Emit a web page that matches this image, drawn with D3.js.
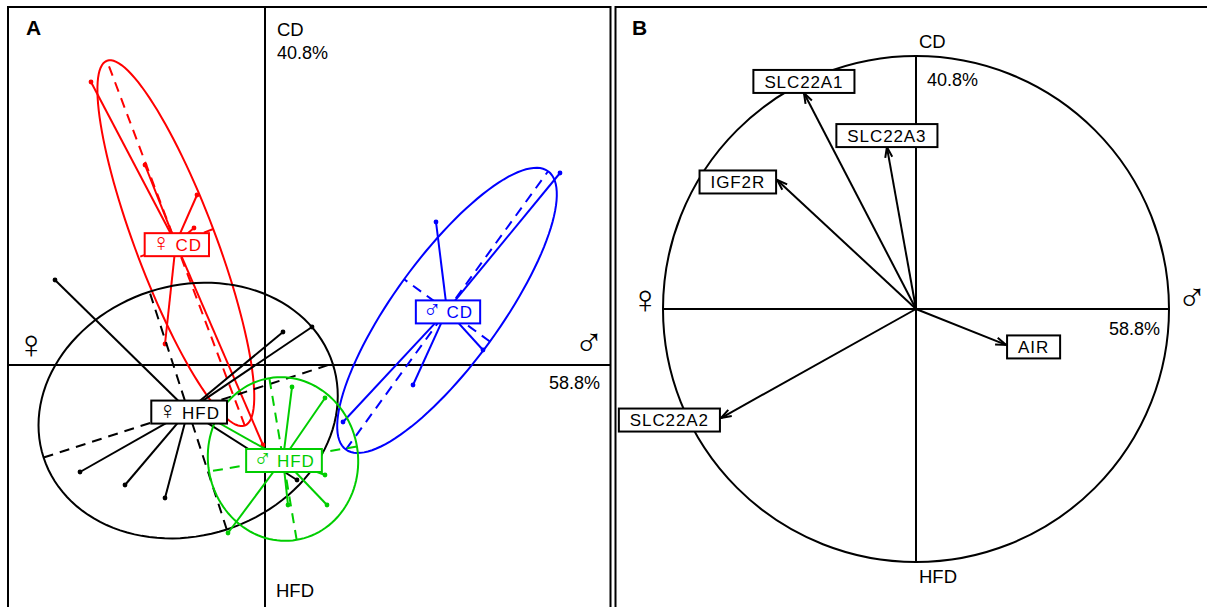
<!DOCTYPE html>
<html>
<head>
<meta charset="utf-8">
<script src="https://cdn.jsdelivr.net/npm/d3@7"></script>
<style>
body{margin:0;background:#fff;}
text{font-family:"Liberation Sans",Arial,sans-serif;}
.sym{font-family:"DejaVu Sans";font-weight:200;}
</style>
</head>
<body>
<div id="chart"></div>
<script>
// panel A - individuals on axis 1 (sex) / axis 2 (diet), by group
const groupSymbols = ["♀", "♀", "♂", "♂"];
const groupDiets = ["CD", "HFD", "CD", "HFD"];
const groupColors = ["#ff0000", "#000000", "#0000ff", "#00cd00"];
const femaleCD  = [[-3.48,5.66],[-2.40,4.00],[-1.36,3.40],[-1.42,2.74],[-2.00,0.42],[-0.04,-1.60]];
const femaleHFD = [[-4.20,1.70],[0.36,0.66],[0.94,0.76],[-3.70,-2.14],[-2.80,-2.40],[-2.00,-2.66],[0.64,-2.30]];
const maleCD    = [[5.90,3.84],[3.42,2.86],[2.96,-0.40],[4.36,0.30],[1.56,-1.14]];
const maleHFD   = [[0.54,-0.44],[1.20,-0.66],[1.20,-2.20],[1.24,-2.80],[0.46,-2.80],[-0.74,-3.36],[-1.38,-0.90]];
const groupPoints = [femaleCD, femaleHFD, maleCD, maleHFD];
// ellipse half axes + angle (degrees)
const ellipseMajor = [3.90, 3.04, 3.44, 1.64];
const ellipseMinor = [0.80, 2.50, 1.06, 1.50];
const ellipseAngle = [110.7, 18.0, 54.0, 99.6];

// panel B - correlation circle
const varNames = ["SLC22A1", "SLC22A3", "IGF2R", "SLC22A2", "AIR"];
const varX = [-0.443, -0.115, -0.549, -0.771, 0.356];
const varY = [0.854, 0.640, 0.510, -0.431, -0.142];

const axisPct = ["58.8%", "40.8%"];   // axis 1, axis 2
const axisEnds = ["♀", "♂", "HFD", "CD"]; // left, right, bottom, top

const svg = d3.select("#chart").append("svg")
    .attr("width", 1207).attr("height", 607);

// ---------- panel A ----------
var x = d3.scaleLinear().domain([-5.14, 6.9]).range([8, 610]);
var y = d3.scaleLinear().domain([-4.84, 7.16]).range([607, 7]);

var gA = svg.append("g");
gA.append("path")
    .attr("d", "M8,640V7H610.5V640")
    .attr("fill", "none").attr("stroke", "#000").attr("stroke-width", 2);
gA.append("line").attr("x1", 8).attr("x2", 610.5).attr("y1", y(0)).attr("y2", y(0))
    .attr("stroke", "#000").attr("stroke-width", 2);
gA.append("line").attr("x1", x(0)).attr("x2", x(0)).attr("y1", 7).attr("y2", 640)
    .attr("stroke", "#000").attr("stroke-width", 2);

gA.append("text").attr("x", 26).attr("y", 35).attr("font-size", 21).attr("font-weight", "bold").text("A");
gA.append("text").attr("x", x(0) + 12).attr("y", 36).attr("font-size", 18.5).text(axisEnds[3]);
gA.append("text").attr("x", x(0) + 12).attr("y", 59).attr("font-size", 18).text(axisPct[1]);
gA.append("text").attr("x", x(0) + 11).attr("y", 597).attr("font-size", 18.5).text(axisEnds[2]);
gA.append("text").attr("class", "sym").attr("x", 31).attr("y", 358).attr("font-size", 40)
    .attr("text-anchor", "middle").text(axisEnds[0]);
gA.append("text").attr("class", "sym").attr("x", 589).attr("y", 356).attr("font-size", 40)
    .attr("text-anchor", "middle").text(axisEnds[1]);
gA.append("text").attr("x", 600).attr("y", 389).attr("font-size", 18).attr("text-anchor", "end").text(axisPct[0]);

var line = d3.line().x(d => x(d[0])).y(d => y(d[1]));

function ellipseRing(cx, cy, a, b, deg){
    var th = deg * Math.PI / 180;
    return d3.range(0, 361, 3).map(t => {
        var r = t * Math.PI / 180;
        return [cx + a*Math.cos(r)*Math.cos(th) - b*Math.sin(r)*Math.sin(th),
                cy + a*Math.cos(r)*Math.sin(th) + b*Math.sin(r)*Math.cos(th)];
    });
}

var centers = groupPoints.map(pts => [d3.mean(pts, d => d[0]), d3.mean(pts, d => d[1])]);

groupPoints.forEach((pts, i) => {
    var c = centers[i], col = groupColors[i];
    var th = ellipseAngle[i] * Math.PI / 180;
    var a = ellipseMajor[i], b = ellipseMinor[i];
    var g = gA.append("g");

    g.append("path")
        .attr("d", line(ellipseRing(c[0], c[1], a, b, ellipseAngle[i])))
        .attr("fill", "none").attr("stroke", col).attr("stroke-width", 2);

    // dashed ellipse axes
    var axes = [
        [[c[0] - a*Math.cos(th), c[1] - a*Math.sin(th)], [c[0] + a*Math.cos(th), c[1] + a*Math.sin(th)]],
        [[c[0] + b*Math.sin(th), c[1] - b*Math.cos(th)], [c[0] - b*Math.sin(th), c[1] + b*Math.cos(th)]]
    ];
    g.selectAll(".ax").data(axes).enter().append("path")
        .attr("d", d => line(d))
        .attr("stroke", col).attr("stroke-width", 2).attr("stroke-dasharray", "10,7");

    // spokes from centre to each individual
    g.selectAll(".spoke").data(pts).enter().append("line")
        .attr("x1", x(c[0])).attr("y1", y(c[1]))
        .attr("x2", d => x(d[0])).attr("y2", d => y(d[1]))
        .attr("stroke", col).attr("stroke-width", 2);

    g.selectAll(".pt").data(pts).enter().append("circle")
        .attr("cx", d => x(d[0])).attr("cy", d => y(d[1]))
        .attr("r", 2.4).attr("fill", col);
});

// group labels on top
groupDiets.forEach((diet, i) => {
    var c = centers[i], col = groupColors[i];
    var cx = x(c[0]) + 1, cy = y(c[1]) + 1.5;
    var g = gA.append("g");
    var t = g.append("text")
        .attr("x", cx).attr("y", cy + 6.5)
        .attr("text-anchor", "middle")
        .attr("font-size", 17).attr("letter-spacing", 1)
        .attr("fill", col);
    t.append("tspan").attr("class", "sym").attr("font-size", 25).text(groupSymbols[i]);
    t.append("tspan").attr("dx", 4).text(diet);
    var bb = t.node().getBBox();
    g.insert("rect", "text")
        .attr("x", cx - bb.width/2 - 7).attr("y", cy - 11.5)
        .attr("width", bb.width + 14).attr("height", 23)
        .attr("fill", "#fff").attr("stroke", col).attr("stroke-width", 2);
});

// ---------- panel B ----------
var xb = d3.scaleLinear().domain([-1, 1]).range([663, 1169]);
var yb = d3.scaleLinear().domain([-1, 1]).range([562, 56]);

var gB = svg.append("g");
gB.append("path")
    .attr("d", "M615.5,640V7H1220")
    .attr("fill", "none").attr("stroke", "#000").attr("stroke-width", 2);
gB.append("circle").attr("cx", xb(0)).attr("cy", yb(0)).attr("r", xb(1) - xb(0))
    .attr("fill", "none").attr("stroke", "#000").attr("stroke-width", 2);
gB.append("line").attr("x1", xb(-1)).attr("x2", xb(1)).attr("y1", yb(0)).attr("y2", yb(0))
    .attr("stroke", "#000").attr("stroke-width", 2);
gB.append("line").attr("x1", xb(0)).attr("x2", xb(0)).attr("y1", yb(1)).attr("y2", yb(-1))
    .attr("stroke", "#000").attr("stroke-width", 2);

gB.append("text").attr("x", 632).attr("y", 35).attr("font-size", 21).attr("font-weight", "bold").text("B");
gB.append("text").attr("x", xb(0) + 3).attr("y", 48).attr("font-size", 18.5).text(axisEnds[3]);
gB.append("text").attr("x", xb(0) + 11).attr("y", 86).attr("font-size", 18).text(axisPct[1]);
gB.append("text").attr("x", xb(0) + 3).attr("y", 583).attr("font-size", 18.5).text(axisEnds[2]);
gB.append("text").attr("x", 1160).attr("y", 335).attr("font-size", 18).attr("text-anchor", "end").text(axisPct[0]);
gB.append("text").attr("class", "sym").attr("x", 645).attr("y", 313).attr("font-size", 40)
    .attr("text-anchor", "middle").text(axisEnds[0]);
gB.append("text").attr("class", "sym").attr("x", 1192).attr("y", 311).attr("font-size", 40)
    .attr("text-anchor", "middle").text(axisEnds[1]);

varNames.forEach((name, i) => {
    var x0 = xb(0), y0 = yb(0), x1 = xb(varX[i]), y1 = yb(varY[i]);
    var ang = Math.atan2(y1 - y0, x1 - x0), hl = 11, ha = 0.33;
    gB.append("line").attr("x1", x0).attr("y1", y0).attr("x2", x1).attr("y2", y1)
        .attr("stroke", "#000").attr("stroke-width", 2);
    gB.append("path")
        .attr("d", "M" + (x1 - hl*Math.cos(ang - ha)) + "," + (y1 - hl*Math.sin(ang - ha)) +
                   "L" + x1 + "," + y1 +
                   "L" + (x1 - hl*Math.cos(ang + ha)) + "," + (y1 - hl*Math.sin(ang + ha)))
        .attr("fill", "none").attr("stroke", "#000").attr("stroke-width", 2);

    var g = gB.append("g");
    var t = g.append("text").attr("font-size", 17).attr("letter-spacing", 0.9)
        .attr("text-anchor", "middle").attr("dy", "0.36em").text(name);
    var w = t.node().getComputedTextLength() + 22, h = 23, cx, cy;
    if (Math.abs(varY[i]) > Math.abs(varX[i])) {
        cx = x1; cy = varY[i] > 0 ? y1 - h/2 : y1 + h/2;
    } else {
        cy = y1 + 2; cx = varX[i] > 0 ? x1 + w/2 + 1 : x1 - w/2 - 1;
    }
    t.attr("x", cx).attr("y", cy);
    g.insert("rect", "text")
        .attr("x", cx - w/2).attr("y", cy - h/2).attr("width", w).attr("height", h)
        .attr("fill", "#fff").attr("stroke", "#000").attr("stroke-width", 2);
});
</script>
</body>
</html>
